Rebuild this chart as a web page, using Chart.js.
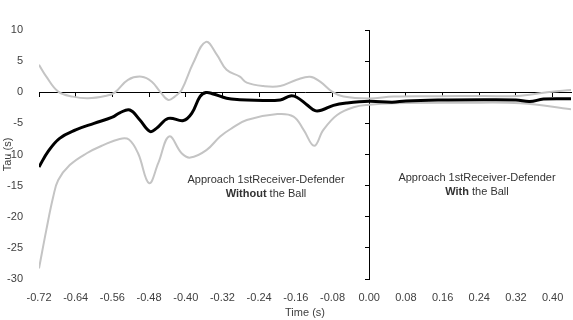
<!DOCTYPE html>
<html>
<head>
<meta charset="utf-8">
<script src="https://cdn.jsdelivr.net/npm/chart.js@4.4.1/dist/chart.umd.min.js"></script>
<style>
  html, body { margin: 0; padding: 0; background: #fff; }
  #wrap { width: 573px; height: 320px; }
</style>
</head>
<body>
<div id="wrap"><canvas id="grafica" width="573" height="320"></canvas></div>
<script>
// --- DATOS ---
const TICKS_X = [-0.72, -0.64, -0.56, -0.48, -0.40, -0.32, -0.24, -0.16, -0.08, 0.00, 0.08, 0.16, 0.24, 0.32, 0.40];
const TICKS_Y = [10, 5, 0, -5, -10, -15, -20, -25, -30];

// media (linea negra)
const mediaT = [-0.72, -0.70, -0.675, -0.64, -0.60, -0.56, -0.544, -0.522, -0.50, -0.478, -0.464, -0.438, -0.405, -0.387, -0.369, -0.356, -0.34, -0.311, -0.282, -0.25, -0.194, -0.172, -0.158, -0.136, -0.118, -0.103, -0.078, -0.049, 0, 0.05, 0.08, 0.15, 0.25, 0.32, 0.35, 0.38, 0.44];
const mediaV = [-12.0, -9.5, -7.4, -6.05, -5.0, -4.0, -3.3, -2.85, -4.45, -6.3, -5.8, -4.2, -4.55, -3.4, -0.7, -0.05, -0.27, -0.96, -1.2, -1.28, -1.23, -0.6, -0.8, -2.0, -2.95, -2.85, -2.1, -1.72, -1.45, -1.6, -1.4, -1.25, -1.2, -1.25, -1.5, -1.1, -1.05];

// media + DE (gris superior)
const superiorT = [-0.72, -0.704, -0.678, -0.646, -0.613, -0.576, -0.555, -0.526, -0.496, -0.474, -0.456, -0.438, -0.424, -0.409, -0.384, -0.356, -0.332, -0.311, -0.282, -0.267, -0.231, -0.194, -0.158, -0.129, -0.107, -0.081, -0.056, 0, 0.053, 0.15, 0.25, 0.322, 0.388, 0.441];
const superiorV = [4.4, 2.5, 0.1, -0.7, -0.96, -0.6, -0.05, 2.0, 2.5, 1.7, 0.1, -1.24, -0.7, 0.37, 4.65, 8.1, 6.0, 3.6, 2.5, 1.55, 1.0, 1.0, 2.0, 2.5, 1.7, 0.1, -0.7, -1.0, -0.7, -0.65, -0.6, -0.6, 0.0, 0.37];

// media - DE (gris inferior)
const inferiorT = [-0.72, -0.704, -0.689, -0.678, -0.653, -0.616, -0.58, -0.544, -0.524, -0.504, -0.48, -0.46, -0.436, -0.409, -0.39, -0.355, -0.325, -0.3, -0.267, -0.2, -0.165, -0.143, -0.12, -0.1, -0.07, -0.034, 0, 0.053, 0.2, 0.33, 0.441];
const inferiorV = [-28.3, -22.1, -16.8, -14.1, -11.7, -9.8, -8.5, -7.5, -7.6, -9.8, -14.6, -11.4, -7.1, -9.8, -10.5, -9.3, -7.1, -5.8, -4.45, -3.5, -3.9, -6.05, -8.6, -6.05, -3.65, -2.4, -2.0, -1.77, -1.7, -1.77, -2.73];

// textos dentro del grafico (en coordenadas de datos)
const NOTAS_T = [-0.225, 0.235];
const NOTAS_V = [-14.1, -13.85];
const NOTAS_L1 = ['Approach 1stReceiver-Defender', 'Approach 1stReceiver-Defender'];
const NOTAS_NEGRITA = ['Without', 'With'];
const NOTAS_RESTO = [' the Ball', ' the Ball'];

// --- UTILIDADES ---
const FUENTE = '"Liberation Sans", Arial, sans-serif';
const aPuntos = (ts, vs) => ts.map((t, i) => ({ x: t, y: vs[i] }));
const ticksX = s => { s.ticks = TICKS_X.map(v => ({ value: v })); };
const ticksY = s => { s.ticks = TICKS_Y.map(v => ({ value: v })); };

const pluginNotas = {
    id: 'notas',
    afterDatasetsDraw(chart) {
        const { ctx, scales: { x, y } } = chart;
        ctx.save();
        ctx.fillStyle = '#333';
        ctx.textBaseline = 'middle';
        NOTAS_T.forEach((t, i) => {
            const px = x.getPixelForValue(t);
            const py = y.getPixelForValue(NOTAS_V[i]);
            ctx.font = '11px ' + FUENTE;
            ctx.textAlign = 'center';
            ctx.fillText(NOTAS_L1[i], px, py);
            // segunda linea: parte en negrita + resto
            ctx.font = 'bold 11px ' + FUENTE;
            const wN = ctx.measureText(NOTAS_NEGRITA[i]).width;
            ctx.font = '11px ' + FUENTE;
            const wR = ctx.measureText(NOTAS_RESTO[i]).width;
            let x0 = px - (wN + wR) / 2;
            ctx.textAlign = 'left';
            ctx.font = 'bold 11px ' + FUENTE;
            ctx.fillText(NOTAS_NEGRITA[i], x0, py + 14);
            ctx.font = '11px ' + FUENTE;
            ctx.fillText(NOTAS_RESTO[i], x0 + wN, py + 14);
        });
        ctx.restore();
    }
};

const serie = (data, color, ancho) => ({
    data, borderColor: color, borderWidth: ancho, pointRadius: 0,
    tension: 0.4, fill: false
});

// --- GRAFICA ---
new Chart(document.getElementById('grafica'), {
    type: 'line',
    data: {
        datasets: [
            serie(aPuntos(mediaT, mediaV), '#000', 3),
            serie(aPuntos(superiorT, superiorV), '#c4c4c4', 2),
            serie(aPuntos(inferiorT, inferiorV), '#c4c4c4', 2)
        ]
    },
    options: {
        responsive: false,
        animation: false,
        layout: { padding: { top: 30, right: 2, left: 0, bottom: 0 } },
        plugins: { legend: { display: false }, tooltip: { enabled: false } },
        scales: {
            x: {
                type: 'linear', position: 'bottom', min: -0.72, max: 0.44,
                afterBuildTicks: ticksX,
                afterFit: s => { s.height = 41; },
                grid: { display: false }, border: { display: false },
                ticks: { padding: 4, color: '#404040', font: { family: FUENTE, size: 11 }, maxRotation: 0, autoSkip: false, callback: v => v.toFixed(2) },
                title: { display: true, text: 'Time (s)', color: '#404040', font: { family: FUENTE, size: 11 }, padding: { top: 6, bottom: 0 } }
            },
            ejeX0: {
                type: 'linear', axis: 'x', position: { y: 0 }, min: -0.72, max: 0.44,
                afterBuildTicks: ticksX,
                ticks: { display: false },
                grid: { display: true, drawOnChartArea: false, drawTicks: true, tickLength: 4, color: '#000' },
                border: { display: true, color: '#000', width: 1 }
            },
            y: {
                type: 'linear', position: 'left', min: -30, max: 10,
                afterBuildTicks: ticksY,
                afterFit: s => { s.width = 39; },
                grid: { display: false }, border: { display: false },
                ticks: { padding: 8, color: '#404040', font: { family: FUENTE, size: 11 } },
                title: { display: true, text: 'Tau (s)', color: '#404040', font: { family: FUENTE, size: 11 }, padding: { top: 1, bottom: 0 } }
            },
            ejeY0: {
                type: 'linear', axis: 'y', position: { x: 0 }, min: -30, max: 10,
                afterBuildTicks: ticksY,
                ticks: { display: false },
                grid: { display: true, drawOnChartArea: false, drawTicks: true, tickLength: 4, color: '#000' },
                border: { display: true, color: '#000', width: 1 }
            }
        }
    },
    plugins: [pluginNotas]
});
</script>
</body>
</html>
